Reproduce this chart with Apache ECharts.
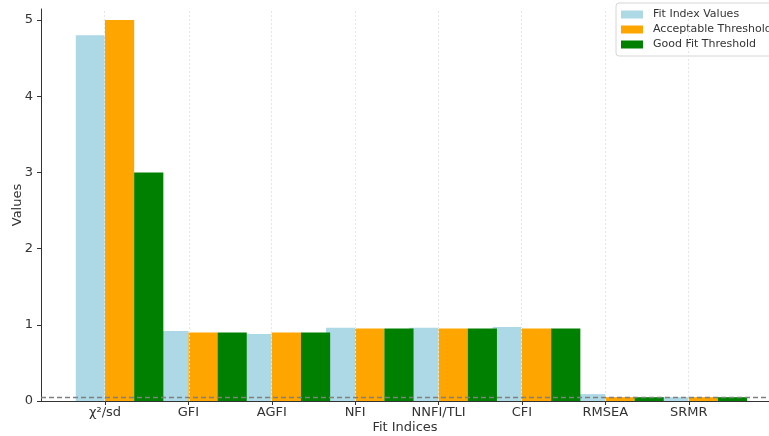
<!DOCTYPE html>
<html>
<head>
<meta charset="utf-8">
<title>Fit Indices</title>
<script src="https://cdn.jsdelivr.net/npm/echarts@6/dist/echarts.min.js"></script>
<style>
  html, body { margin: 0; padding: 0; background: #fff; }
  #chart { width: 769px; height: 436px; }
</style>
</head>
<body>
<div id="chart"></div>
<script>
// Fit indices and their thresholds
const categories = ['χ²/sd', 'GFI', 'AGFI', 'NFI', 'NNFI/TLI', 'CFI', 'RMSEA', 'SRMR'];
const fitValues = [4.8, 0.92, 0.88, 0.96, 0.96, 0.97, 0.09, 0.05];
const acceptableThreshold = [5.0, 0.9, 0.9, 0.95, 0.95, 0.95, 0.05, 0.05];
const goodFitThreshold = [3.0, 0.9, 0.9, 0.95, 0.95, 0.95, 0.05, 0.05];
const yTicks = [0, 1, 2, 3, 4, 5];
const referenceLevel = 0.05;

// bar layout in axis units: three bars side by side, tick between first and second
const BAR_W = 0.35;
const TICK_OFFSET = BAR_W / 2;
const FONT = 'DejaVu Sans, sans-serif';
const TEXT = '#333';

const tickPositions = categories.map((_, i) => i + TICK_OFFSET);

function barData(values, slot) {
  return values.map((v, i) => [i + slot * BAR_W, v]);
}

function renderBar(params, api) {
  const x = api.value(0);
  const y = api.value(1);
  const topLeft = api.coord([x - BAR_W / 2, y]);
  const bottomRight = api.coord([x + BAR_W / 2, 0]);
  return {
    type: 'rect',
    shape: {
      x: topLeft[0],
      y: topLeft[1],
      width: bottomRight[0] - topLeft[0],
      height: bottomRight[1] - topLeft[1]
    },
    style: api.style()
  };
}

function barSeries(name, values, slot, color) {
  return {
    name: name,
    type: 'custom',
    renderItem: renderBar,
    encode: { x: 0, y: 1 },
    data: barData(values, slot),
    itemStyle: { color: color },
    clip: true,
    z: 2
  };
}

const chart = echarts.init(document.getElementById('chart'), null, { renderer: 'canvas' });

chart.setOption({
  animation: false,
  backgroundColor: '#fff',
  textStyle: { fontFamily: FONT },
  grid: { left: 41, right: 0, top: 9, bottom: 35, containLabel: false, outerBoundsMode: 'none' },
  legend: {
    orient: 'vertical',
    left: 616,
    top: 3,
    padding: [6, 8, 6, 5],
    itemGap: 4,
    itemWidth: 22,
    itemHeight: 8,
    icon: 'rect',
    borderColor: '#d6d6d6',
    borderWidth: 1,
    borderRadius: 3,
    backgroundColor: 'rgba(255,255,255,0.85)',
    textStyle: { fontFamily: FONT, fontSize: 11, color: TEXT, padding: [0, 0, 0, 5] },
    data: ['Fit Index Values', 'Acceptable Threshold', 'Good Fit Threshold']
  },
  xAxis: {
    type: 'value',
    min: -0.592,
    max: 8.137,
    name: 'Fit Indices',
    nameLocation: 'middle',
    nameGap: 20,
    nameMoveOverlap: false,
    nameTextStyle: { fontFamily: FONT, fontSize: 13, color: TEXT, verticalAlign: 'top' },
    axisLine: { show: true, onZero: false, lineStyle: { color: '#333', width: 1 } },
    axisTick: { show: true, length: 4, customValues: tickPositions, lineStyle: { color: '#333' } },
    axisLabel: {
      customValues: tickPositions,
      margin: 5,
      fontFamily: FONT,
      fontSize: 13,
      color: TEXT,
      formatter: v => categories[Math.round(v - TICK_OFFSET)] || ''
    },
    splitLine: { show: false }
  },
  yAxis: {
    type: 'value',
    min: 0,
    max: 5.145,
    name: 'Values',
    nameLocation: 'middle',
    nameGap: 17,
    nameMoveOverlap: false,
    nameTextStyle: { fontFamily: FONT, fontSize: 13, color: TEXT },
    axisLine: { show: true, onZero: false, lineStyle: { color: '#333', width: 1 } },
    axisTick: { show: true, length: 4, customValues: yTicks, lineStyle: { color: '#333' } },
    axisLabel: {
      customValues: yTicks,
      margin: 8,
      fontFamily: FONT,
      fontSize: 13,
      color: TEXT
    },
    splitLine: { show: false }
  },
  series: [
    {
      // vertical grid lines at the category ticks
      name: 'grid',
      type: 'line',
      data: [],
      silent: true,
      z: 0,
      markLine: {
        silent: true,
        symbol: 'none',
        label: { show: false },
        lineStyle: { color: '#e6e6e6', type: [2, 2], width: 1 },
        data: tickPositions.map(x => ({ xAxis: x }))
      }
    },
    barSeries('Fit Index Values', fitValues, 0, '#add8e6'),
    barSeries('Acceptable Threshold', acceptableThreshold, 1, '#ffa500'),
    barSeries('Good Fit Threshold', goodFitThreshold, 2, '#008000'),
    {
      // dashed reference level
      name: 'reference',
      type: 'line',
      data: [],
      silent: true,
      z: 10,
      markLine: {
        silent: true,
        symbol: 'none',
        label: { show: false },
        lineStyle: { color: '#808080', type: [5, 3], width: 1.3 },
        data: [{ yAxis: referenceLevel }]
      }
    }
  ]
});
</script>
</body>
</html>
